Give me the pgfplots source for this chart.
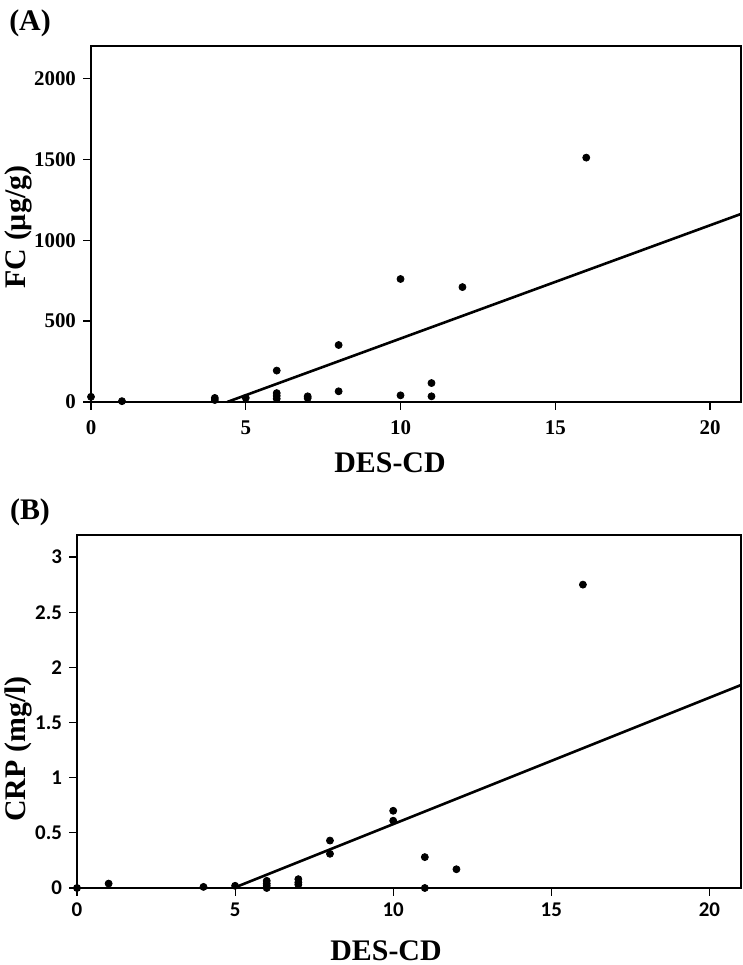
\documentclass[border=0pt]{standalone}
\usepackage{fontspec}
\setmainfont{Liberation Serif}
\newfontfamily\carlito{Carlito}
\usepackage{pgfplots}
\pgfplotsset{compat=1.18}
\begin{document}
\begin{tikzpicture}[x=1bp,y=1bp]
\useasboundingbox (0,0) rectangle (371,482.5);
% ---------- Panel A ----------
\begin{axis}[
  at={(45.5bp,281.5bp)}, anchor=south west,
  scale only axis, width=325bp, height=178bp,
  xmin=0, xmax=21, ymin=0, ymax=2200,
  xtick={0,5,10,15,20}, ytick={0,500,1000,1500,2000},
  tick align=outside, xtick pos=bottom, ytick pos=left,
  major tick length=4bp,
  axis line style={line width=0.7bp},
  tick style={line width=0.6bp,black},
  /pgf/number format/assume math mode=true,
  ticklabel style={font=\fontsize{10.5}{12}\selectfont\bfseries},
  xticklabel style={yshift=-2bp},
  scaled y ticks=false,
  yticklabel style={/pgf/number format/1000 sep={}},
  clip=false,
]
\addplot[only marks, mark=*, mark size=1.75bp, black] coordinates {
 (0,32) (1,5) (4,25) (4,12) (5,25) (6,194) (6,55) (6,38) (6,20)
 (7,35) (7,24) (8,352) (8,66) (10,760) (10,41) (11,117) (11,35)
 (12,710) (16,1510)
};
\addplot[black, line width=1.3bp] coordinates {(4.4,0) (21,1162)};
\end{axis}
% ---------- Panel B ----------
\begin{axis}[
  at={(38.5bp,38.5bp)}, anchor=south west,
  scale only axis, width=332bp, height=176.5bp,
  xmin=0, xmax=21, ymin=0, ymax=3.2,
  xtick={0,5,10,15,20}, ytick={0,0.5,1,1.5,2,2.5,3},
  tick align=outside, xtick pos=bottom, ytick pos=left,
  major tick length=4bp,
  axis line style={line width=0.7bp},
  tick style={line width=0.6bp,black},
  /pgf/number format/assume math mode=true,
  ticklabel style={font=\fontsize{10.5}{12}\selectfont\carlito\bfseries},
  clip=false,
]
\addplot[only marks, mark=*, mark size=1.75bp, black] coordinates {
 (0,0.0) (1,0.04) (4,0.01) (5,0.02) (6,0.065) (6,0.04) (6,0.02) (6,0.0)
 (7,0.08) (7,0.05) (7,0.03) (8,0.43) (8,0.31) (10,0.70) (10,0.61)
 (11,0.28) (11,0.0) (12,0.17) (16,2.75)
};
\addplot[black, line width=1.3bp] coordinates {(4.95,0) (21,1.84)};
\end{axis}
% ---------- labels ----------
\node[font=\fontsize{15}{18}\selectfont\bfseries] at (15,471) {(A)};
\node[font=\fontsize{15}{18}\selectfont\bfseries] at (15,226.5) {(B)};
\node[font=\fontsize{15}{18}\selectfont\bfseries] at (195,251) {DES-CD};
\node[font=\fontsize{15}{18}\selectfont\bfseries] at (193,7) {DES-CD};
\node[font=\fontsize{15}{18}\selectfont\bfseries, rotate=90] at (9,369) {FC (µg/g)};
\node[font=\fontsize{15}{18}\selectfont\bfseries, rotate=90] at (9,108) {CRP (mg/l)};
\end{tikzpicture}
\end{document}
